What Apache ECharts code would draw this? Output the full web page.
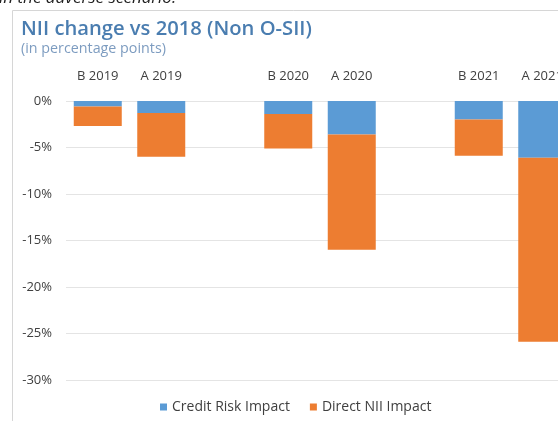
<!DOCTYPE html>
<html>
<head>
<meta charset="utf-8">
<script src="https://cdn.jsdelivr.net/npm/echarts@6/dist/echarts.min.js"></script>
<style>
  html, body { margin: 0; padding: 0; background: #ffffff; overflow: hidden; }
  #chart { width: 574px; height: 421px; }
</style>
</head>
<body>
<div id="chart"></div>
<script>
// Scenario columns (B = baseline, A = adverse); blank slots separate the years
const categories = ['B 2019', 'A 2019', '', 'B 2020', 'A 2020', '', 'B 2021', 'A 2021'];
// Contributions to the NII change vs 2018, in percentage points
const creditRiskImpact = [-0.6, -1.3, null, -1.4, -3.6, null, -2.0, -6.1];
const directNiiImpact  = [-2.1, -4.7, null, -3.7, -12.4, null, -3.9, -19.8];
const yTicks = { min: -30, max: 0, step: 5 };

const FONT = '"Open Sans", "Noto Sans", sans-serif';
const chart = echarts.init(document.getElementById('chart'), null, { renderer: 'canvas' });

chart.setOption({
  animation: false,
  backgroundColor: '#ffffff',
  textStyle: { fontFamily: FONT },
  graphic: [
    {
      type: 'text',
      left: -1, top: -10,
      style: { text: 'in the adverse scenario.', font: 'italic 17px ' + FONT, fill: '#222222' }
    },
    {
      type: 'rect',
      shape: { x: 12.5, y: 10.5, width: 700, height: 600 },
      style: { fill: 'none', stroke: '#d6d6d6', lineWidth: 1 },
      z: -1
    },
    {
      type: 'text',
      left: 21, top: 19,
      style: { text: 'NII change vs 2018 (Non O-SII)', font: '600 20.2px ' + FONT, fill: '#4a7db0' }
    },
    {
      type: 'text',
      left: 21, top: 42,
      style: { text: '(in percentage points)', font: '14.3px ' + FONT, fill: '#7d9cc0' }
    }
  ],
  legend: {
    bottom: 2,
    left: 155,
    itemWidth: 7,
    itemHeight: 7,
    itemGap: 20,
    icon: 'rect',
    textStyle: { fontSize: 14, color: '#404040', fontFamily: FONT },
    data: ['Credit Risk Impact', 'Direct NII Impact']
  },
  grid: { left: 66, right: 0, top: 101, bottom: 41, containLabel: false },
  xAxis: {
    type: 'category',
    position: 'top',
    data: categories,
    axisLine: { show: false },
    axisTick: { show: false },
    axisLabel: { color: '#404040', fontSize: 13, margin: 18, fontFamily: FONT }
  },
  yAxis: {
    type: 'value',
    min: yTicks.min,
    max: yTicks.max,
    interval: yTicks.step,
    axisLine: { show: false },
    axisTick: { show: false },
    axisLabel: { formatter: '{value}%', color: '#404040', fontSize: 13, margin: 14, fontFamily: FONT },
    splitLine: { lineStyle: { color: '#e4e4e4', width: 1 } }
  },
  series: [
    {
      name: 'Credit Risk Impact',
      type: 'bar',
      stack: 'nii',
      barWidth: 48,
      itemStyle: { color: '#5b9bd5' },
      data: creditRiskImpact
    },
    {
      name: 'Direct NII Impact',
      type: 'bar',
      stack: 'nii',
      barWidth: 48,
      itemStyle: { color: '#ed7d31' },
      data: directNiiImpact
    }
  ]
});
</script>
</body>
</html>
